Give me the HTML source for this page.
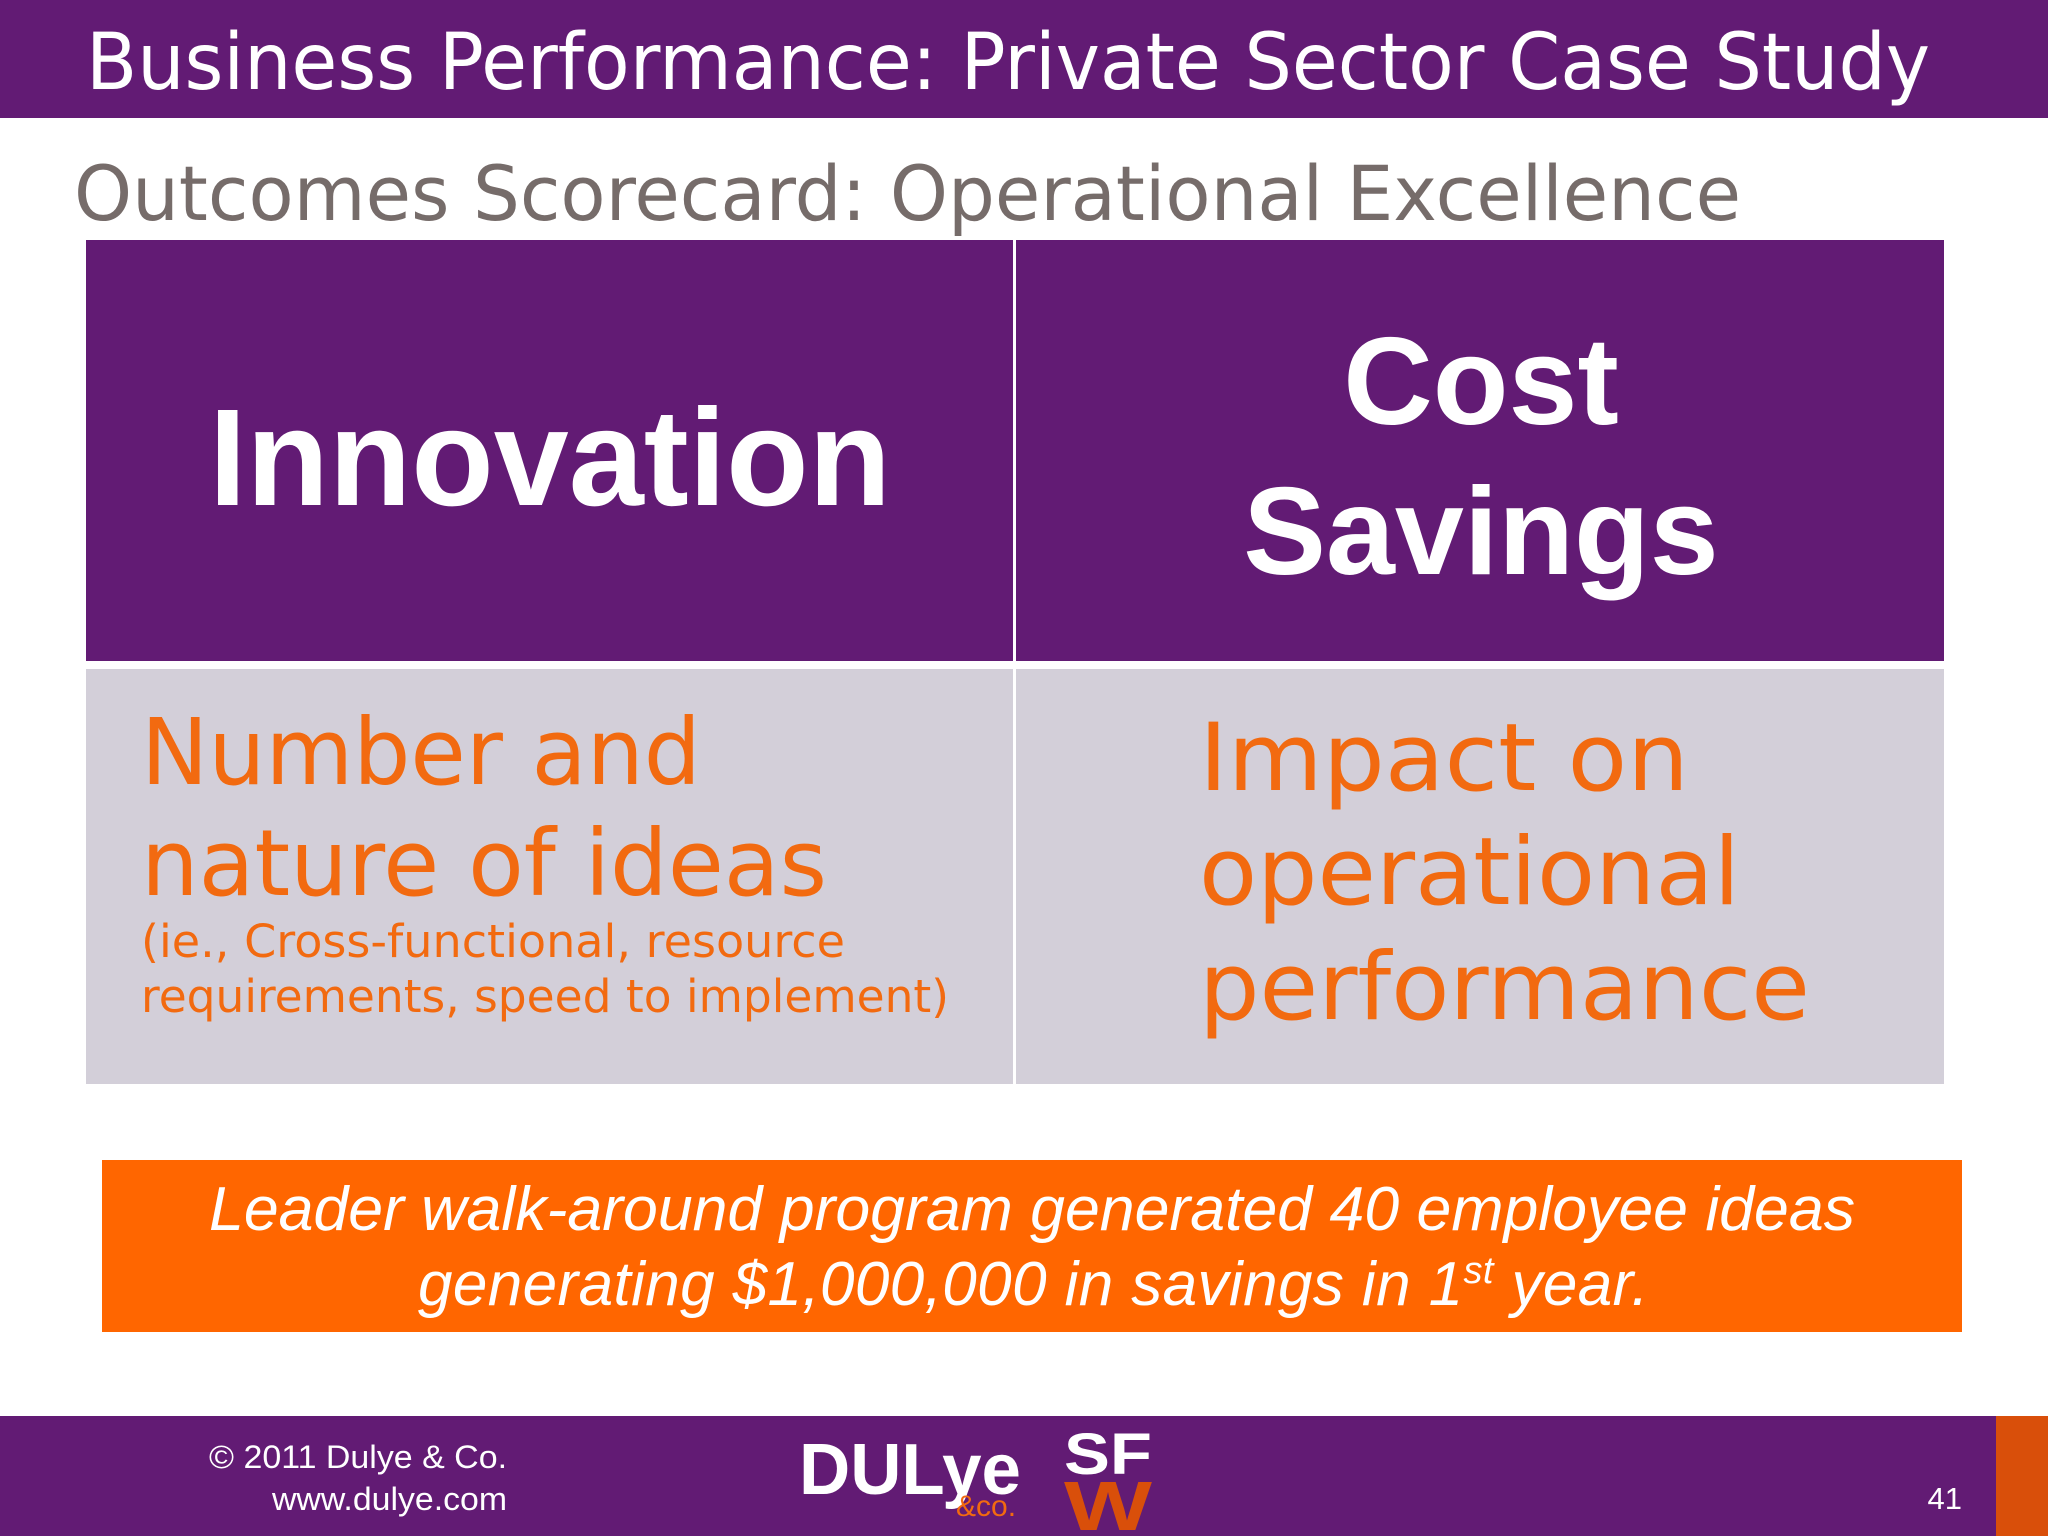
<!DOCTYPE html>
<html><head><meta charset="utf-8"><style>
html,body{margin:0;padding:0;background:#fff;}
svg{display:block;}
</style></head><body>
<svg width="2048" height="1536" viewBox="0 0 2048 1536" xmlns="http://www.w3.org/2000/svg">
<rect x="0" y="0" width="2048" height="1536" fill="#ffffff"/>
<rect x="0" y="0" width="2048" height="118" fill="#621b74"/>
<text x="86" y="89" font-family="DejaVu Sans, sans-serif" font-size="78" fill="#ffffff" textLength="1844" lengthAdjust="spacingAndGlyphs">Business Performance: Private Sector Case Study</text>
<text x="74" y="220" font-family="DejaVu Sans, sans-serif" font-size="76" fill="#766c6a" textLength="1667" lengthAdjust="spacingAndGlyphs">Outcomes Scorecard: Operational Excellence</text>

<g>
<rect x="86" y="240" width="927" height="421" fill="#621b74"/>
<rect x="1016" y="240" width="928" height="421" fill="#621b74"/>
<rect x="86" y="669" width="927" height="415" fill="#d3cfd9"/>
<rect x="1016" y="669" width="928" height="415" fill="#d3cfd9"/>
<text x="209" y="505" font-family="Liberation Sans, sans-serif" font-weight="bold" font-size="138" fill="#ffffff" textLength="682" lengthAdjust="spacingAndGlyphs">Innovation</text>
<text x="1481" y="424" text-anchor="middle" font-family="Liberation Sans, sans-serif" font-weight="bold" font-size="124" fill="#ffffff">Cost</text>
<text x="1481" y="574" text-anchor="middle" font-family="Liberation Sans, sans-serif" font-weight="bold" font-size="124" fill="#ffffff">Savings</text>
<g font-family="DejaVu Sans, sans-serif" fill="#f26a10">
<text x="141" y="784" font-size="92" textLength="560" lengthAdjust="spacingAndGlyphs">Number and</text>
<text x="141" y="895" font-size="92" textLength="686" lengthAdjust="spacingAndGlyphs">nature of ideas</text>
<text x="141" y="957" font-size="45" textLength="704" lengthAdjust="spacingAndGlyphs">(ie., Cross-functional, resource</text>
<text x="141" y="1012" font-size="45" textLength="808" lengthAdjust="spacingAndGlyphs">requirements, speed to implement)</text>
<text x="1199" y="790" font-size="94" textLength="490" lengthAdjust="spacingAndGlyphs">Impact on</text>
<text x="1199" y="904" font-size="94" textLength="541" lengthAdjust="spacingAndGlyphs">operational</text>
<text x="1199" y="1019" font-size="94" textLength="611" lengthAdjust="spacingAndGlyphs">performance</text>
</g>
</g>

<rect x="102" y="1160" width="1860" height="172" fill="#ff6600"/>
<text x="209" y="1230" font-family="Liberation Sans, sans-serif" font-style="italic" font-size="62" fill="#ffffff" textLength="1646" lengthAdjust="spacingAndGlyphs">Leader walk-around program generated 40 employee ideas</text>
<text x="418" y="1305" font-family="Liberation Sans, sans-serif" font-style="italic" font-size="62" fill="#ffffff" letter-spacing="0.4">generating $1,000,000 in savings in 1<tspan font-size="38" dy="-22">st</tspan><tspan dy="22"> year.</tspan></text>

<rect x="0" y="1416" width="2048" height="120" fill="#621b74"/>
<rect x="1996" y="1416" width="52" height="120" fill="#d94f0a"/>
<text x="209" y="1468" font-family="Liberation Sans, sans-serif" font-size="32" fill="#ffffff" textLength="298" lengthAdjust="spacingAndGlyphs">© 2011 Dulye &amp; Co.</text>
<text x="272" y="1510" font-family="Liberation Sans, sans-serif" font-size="32" fill="#ffffff" textLength="235" lengthAdjust="spacingAndGlyphs">www.dulye.com</text>
<g>
<text x="799" y="1494" font-family="Liberation Sans, sans-serif" font-weight="bold" font-size="72" fill="#ffffff" textLength="222" lengthAdjust="spacingAndGlyphs">DULye</text>
<text x="956" y="1516" font-family="Liberation Sans, sans-serif" font-size="30" fill="#f26a10">&amp;co.</text>
</g>
<g>
<text x="1064" y="1474" font-family="Liberation Sans, sans-serif" font-weight="bold" font-size="58" fill="#ffffff" textLength="88" lengthAdjust="spacingAndGlyphs">SF</text>
<text x="1064" y="1530" font-family="Liberation Sans, sans-serif" font-weight="bold" font-size="70" fill="#d94f0a" textLength="88" lengthAdjust="spacingAndGlyphs">W</text>
</g>
<text x="1962" y="1509" text-anchor="end" font-family="Liberation Sans, sans-serif" font-size="31" fill="#ffffff">41</text>
</svg>
</body></html>
